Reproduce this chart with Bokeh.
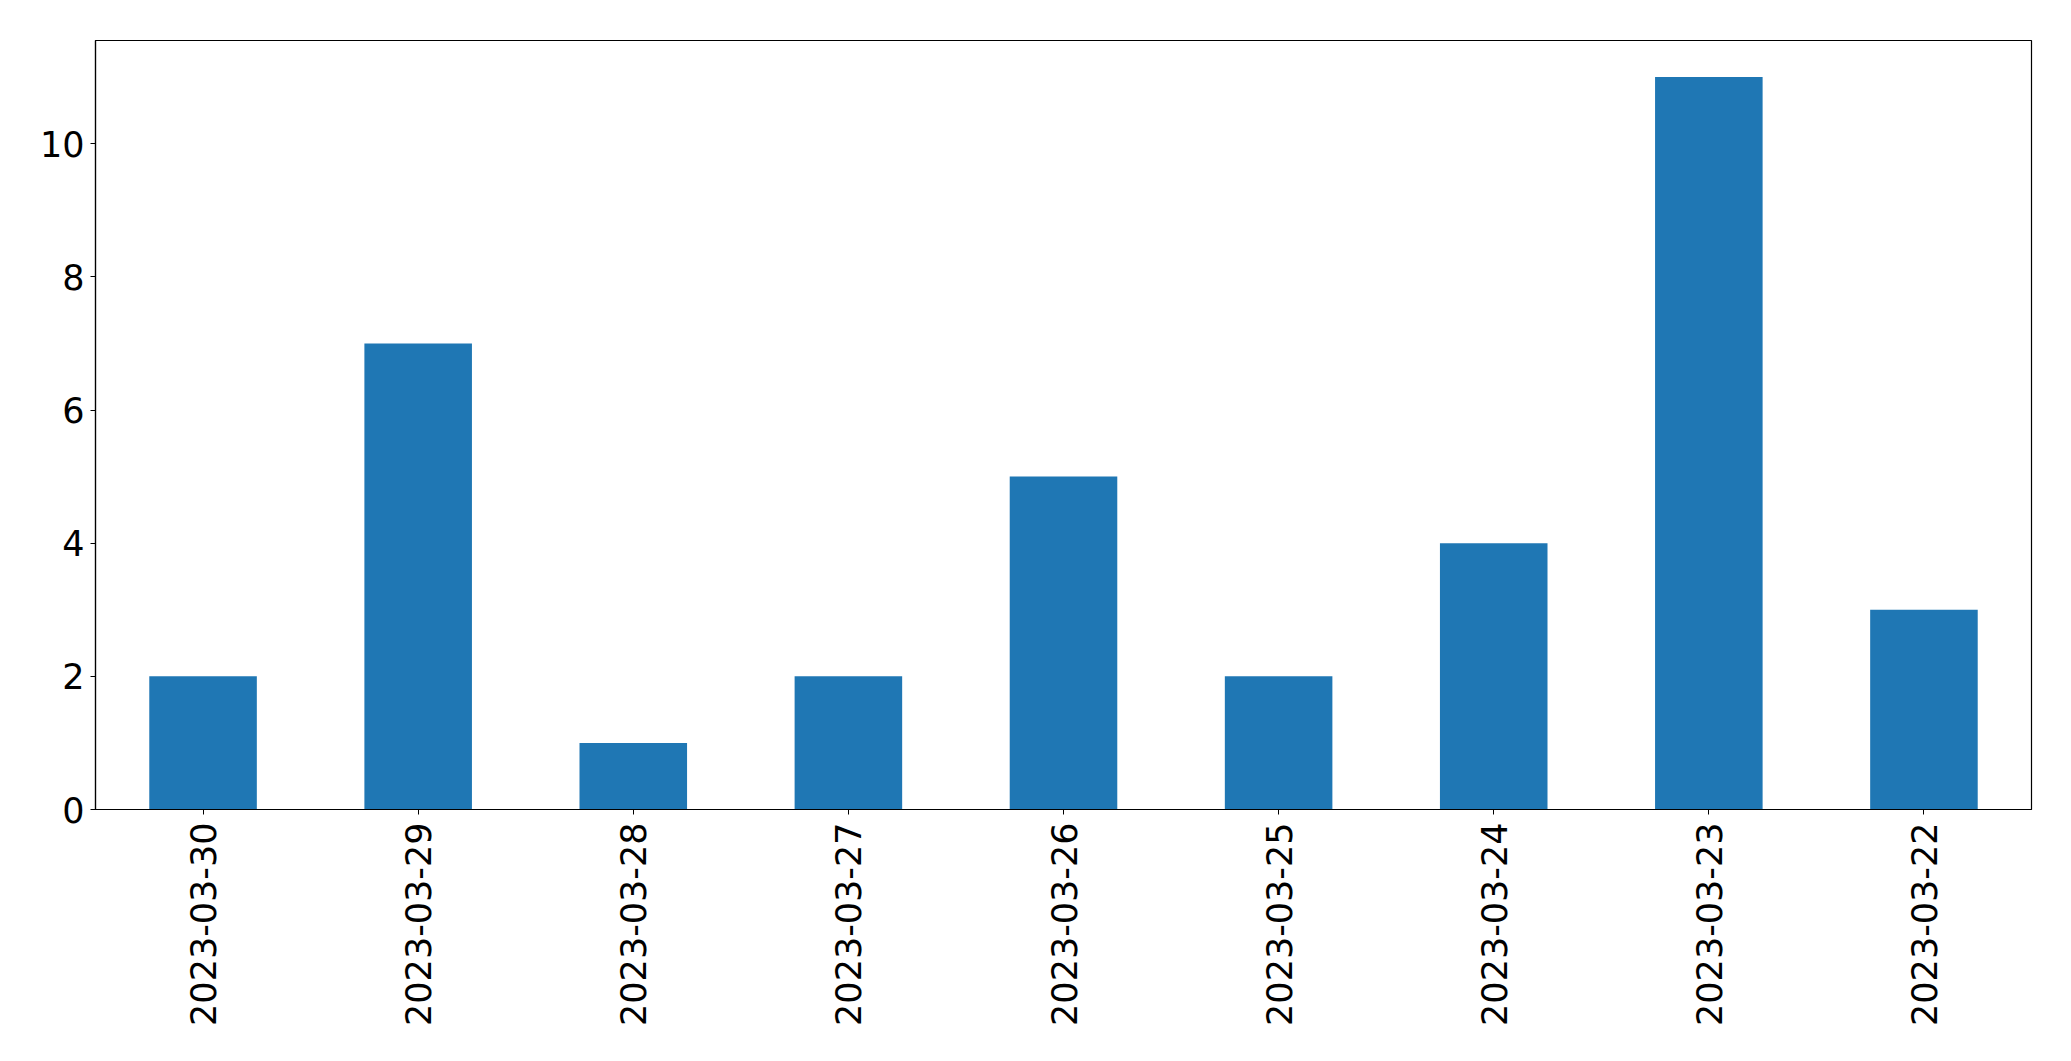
import math
from bokeh.plotting import figure
from bokeh.models import ColumnDataSource, Range1d, FactorRange, FixedTicker
from bokeh.embed import file_html
from bokeh.resources import INLINE

dates = ["2023-03-30", "2023-03-29", "2023-03-28", "2023-03-27", "2023-03-26",
         "2023-03-25", "2023-03-24", "2023-03-23", "2023-03-22"]
counts = [2, 7, 1, 2, 5, 2, 4, 11, 3]
y_ticks = [0, 2, 4, 6, 8, 10]

source = ColumnDataSource(data=dict(date=dates, count=counts))

p = figure(width=2055, height=1045, output_backend="svg", toolbar_location=None,
           x_range=FactorRange(factors=dates, range_padding=0),
           y_range=Range1d(0, 11.55))
p.min_border_left = 95
p.min_border_top = 40
p.min_border_right = 24
p.min_border_bottom = 236

p.vbar(x="date", top="count", width=0.5, source=source, color="#1f77b4", line_color=None)

p.grid.visible = False
p.outline_line_color = "black"
p.outline_line_width = 1.2
p.background_fill_color = "white"
p.border_fill_color = "white"

for ax in (p.xaxis, p.yaxis):
    ax.axis_line_color = "black"
    ax.axis_line_width = 1.2
    ax.major_tick_out = 5
    ax.major_tick_in = 0
    ax.major_tick_line_color = "black"
    ax.minor_tick_out = 0
    ax.minor_tick_in = 0
    ax.major_label_text_font = "DejaVu Sans"
    ax.major_label_text_font_size = "35px"
    ax.major_label_text_color = "black"

p.yaxis.ticker = FixedTicker(ticks=y_ticks)
p.yaxis.major_label_standoff = 6
p.xaxis.major_label_orientation = math.pi / 2
p.xaxis.major_label_standoff = 8

open("out.html", "w").write(file_html(p, INLINE))
